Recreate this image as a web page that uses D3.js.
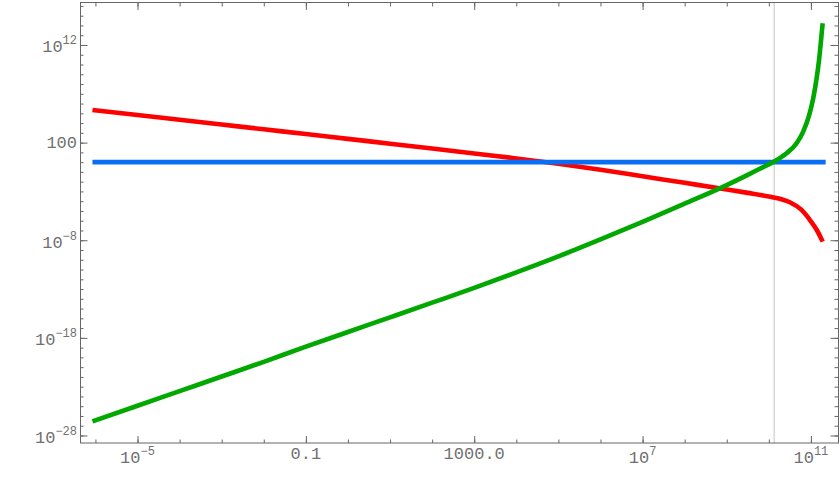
<!DOCTYPE html>
<html><head><meta charset="utf-8">
<script src="https://cdn.jsdelivr.net/npm/d3@7"></script>
<style>body{margin:0;background:#fff} svg{display:block}</style>
</head><body>
<svg id="chart" width="840" height="480"></svg>
<script>
// ---- data ----
const redTime = [8.5e-7, 1e-5, 1e-4, 1e-3, 1e-2, 1e-1, 1, 10, 100, 1e3, 1e4, 1e5, 1e6, 1e7, 1e8, 1e9, 3.16e9, 1e10, 2e10, 3.16e10, 6.0e10, 9.5e10, 1.38e11, 1.9e11];
const redSeries = [2.2e5, 6.8e4, 2.2e4, 7.1e3, 2.3e3, 760, 240, 78, 25, 7.8, 2.4, 0.68, 0.166, 0.0355, 7.6e-3, 1.6e-3, 7.1e-4, 3.0e-4, 1.6e-4, 7.8e-5, 1.26e-5, 1.17e-6, 1.12e-7, 7.2e-9];
const greenTime = [8.5e-7, 1e-5, 1e-4, 1e-3, 1e-2, 1e-1, 1, 10, 100, 1e3, 1e4, 1e5, 1e6, 1e7, 1e8, 1e9, 3.16e9, 6.1e9, 1.315e10, 2.64e10, 4.57e10, 6.56e10, 9.12e10, 1.135e11, 1.368e11, 1.578e11, 1.758e11, 1.901e11];
const greenSeries = [2.8e-27, 1.1e-25, 3.5e-24, 1.1e-22, 3.5e-21, 1.26e-19, 4.0e-18, 1.26e-16, 4.0e-15, 1.3e-13, 5.0e-12, 2.2e-10, 1.2e-8, 7.6e-7, 5.6e-5, 4.5e-3, 0.05, 0.21, 1.12, 8.1, 87, 1350, 6.9e4, 3.5e6, 4.0e8, 4.5e10, 5.0e12, 1.7e14];
const blueTime = [8.5e-7, 2.24e11];
const blueSeries = [1, 1];
const markerTime = 1.34e10;

const xMajorTicks = [1e-5, 0.1, 1000, 1e7, 1e11];
const xMajorLabels = [["10", "\u22125"], ["0.1", ""], ["1000.0", ""], ["10", "7"], ["10", "11"]];
const xMinorTicks = [1e-6, 1e-5, 1e-4, 1e-3, 1e-2, 1e-1, 1, 10, 100, 1e3, 1e4, 1e5, 1e6, 1e7, 1e8, 1e9, 1e10, 1e11];
const yMajorTicks = [1e-28, 1e-18, 1e-8, 100, 1e12];
const yMajorLabels = [["10", "\u221228"], ["10", "\u221218"], ["10", "\u22128"], ["100", ""], ["10", "12"]];
const yMinorTicks = [1e-28,1e-27,1e-26,1e-25,1e-24,1e-23,1e-22,1e-21,1e-20,1e-19,1e-18,1e-17,1e-16,1e-15,1e-14,1e-13,1e-12,1e-11,1e-10,1e-9,1e-8,1e-7,1e-6,1e-5,1e-4,1e-3,1e-2,1e-1,1,10,100,1e3,1e4,1e5,1e6,1e7,1e8,1e9,1e10,1e11,1e12,1e13,1e14,1e15,1e16];

// ---- layout ----
const L = 80, R = 838, T = 3, B = 443;
const svg = d3.select("#chart");
const x = d3.scaleLog().domain([4.3e-7, 4.4e11]).range([L, R]);
const y = d3.scaleLog().domain([1.7e-29, 2.0e16]).range([B, T]);
const axisColor = "#666";
const labelColor = "#707070";
const font = "'Liberation Mono', monospace";

// marker line
svg.append("line")
  .attr("x1", x(markerTime)).attr("x2", x(markerTime))
  .attr("y1", T).attr("y2", B)
  .attr("stroke", "#c4c4c4").attr("stroke-width", 1);

// curves
const line = d3.line().x(d => x(d[0])).y(d => y(d[1])).curve(d3.curveMonotoneX);
svg.append("path").datum(redTime.map((t, i) => [t, redSeries[i]]))
  .attr("d", line).attr("fill", "none").attr("stroke", "#ff0000").attr("stroke-width", 4.6);
svg.append("path").datum(blueTime.map((t, i) => [t, blueSeries[i]]))
  .attr("d", line).attr("fill", "none").attr("stroke", "#0a6ef5").attr("stroke-width", 4.6);
svg.append("path").datum(greenTime.map((t, i) => [t, greenSeries[i]]))
  .attr("d", line).attr("fill", "none").attr("stroke", "#00a800").attr("stroke-width", 4.6);

// axes with inward ticks
function styleAxis(g) {
  g.select(".domain").remove();
  g.selectAll("line").attr("stroke", axisColor).attr("stroke-width", 1);
  g.selectAll("text").remove();
}
const fmtNone = () => "";
svg.append("g").attr("transform", `translate(0,${B})`)
  .call(d3.axisBottom(x).tickValues(xMinorTicks).tickSize(-3.5).tickFormat(fmtNone)).call(styleAxis);
svg.append("g").attr("transform", `translate(0,${B})`)
  .call(d3.axisBottom(x).tickValues(xMajorTicks).tickSize(-7).tickFormat(fmtNone)).call(styleAxis);
svg.append("g").attr("transform", `translate(0,${T})`)
  .call(d3.axisTop(x).tickValues(xMinorTicks).tickSize(-3.5).tickFormat(fmtNone)).call(styleAxis);
svg.append("g").attr("transform", `translate(0,${T})`)
  .call(d3.axisTop(x).tickValues(xMajorTicks).tickSize(-7).tickFormat(fmtNone)).call(styleAxis);
svg.append("g").attr("transform", `translate(${L},0)`)
  .call(d3.axisLeft(y).tickValues(yMinorTicks).tickSize(-3.5).tickFormat(fmtNone)).call(styleAxis);
svg.append("g").attr("transform", `translate(${L},0)`)
  .call(d3.axisLeft(y).tickValues(yMajorTicks).tickSize(-7.5).tickFormat(fmtNone)).call(styleAxis);
svg.append("g").attr("transform", `translate(${R},0)`)
  .call(d3.axisRight(y).tickValues(yMinorTicks).tickSize(-3.5).tickFormat(fmtNone)).call(styleAxis);
svg.append("g").attr("transform", `translate(${R},0)`)
  .call(d3.axisRight(y).tickValues(yMajorTicks).tickSize(-7.5).tickFormat(fmtNone)).call(styleAxis);

// frame
svg.append("rect").attr("x", L + 0.5).attr("y", T - 0.5).attr("width", R - L).attr("height", B - T + 0.5)
  .attr("fill", "none").attr("stroke", axisColor).attr("stroke-width", 1);

// labels
function addLabel(xp, yp, parts, anchor) {
  const t = svg.append("text").attr("x", xp).attr("y", yp)
    .attr("text-anchor", anchor).attr("fill", labelColor)
    .style("font-family", font).style("font-size", "17px");
  t.append("tspan").text(parts[0]);
  if (parts[1]) {
    t.append("tspan").attr("dy", -8).style("font-size", "12px").text(parts[1]);
  }
}
xMajorTicks.forEach((v, i) => {
  const p = xMajorLabels[i];
  addLabel(x(v), p[1] ? B + 20 : B + 16, p, "middle");
});
yMajorTicks.forEach((v, i) => {
  const p = yMajorLabels[i];
  addLabel(77, p[1] ? y(v) + 7.5 : y(v) + 5, p, "end");
});
</script>
</body></html>
